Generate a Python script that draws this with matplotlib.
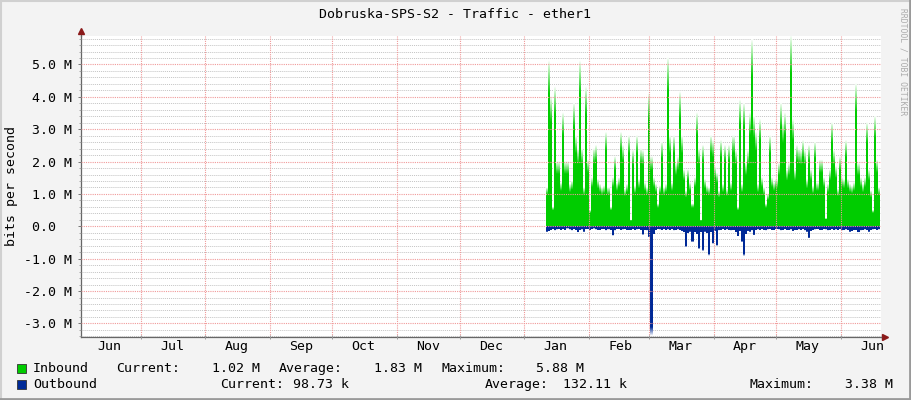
import numpy as np
import pandas as pd
import matplotlib
matplotlib.use("Agg")
import matplotlib.pyplot as plt
import matplotlib.dates as mdates
from matplotlib.colors import to_rgb
from matplotlib.lines import Line2D
from matplotlib.patches import Rectangle
from matplotlib.transforms import blended_transform_factory


title = "Dobruska-SPS-S2 - Traffic - ether1"

# Mbit/s, jeden vzorek zhruba na den
inbound = [
    1.20, 5.10, 4.00, 0.60, 4.30, 2.00, 2.00, 1.35, 3.50, 2.00, 2.00, 1.30, 1.40, 3.80,
    2.80, 2.40, 5.10, 2.40, 1.20, 4.30, 2.05, 0.50, 1.50, 2.40, 2.50, 1.45, 1.30, 1.20,
    1.25, 2.90, 1.20, 0.60, 1.50, 2.15, 1.35, 1.50, 2.90, 2.50, 1.15, 1.30, 2.80,
    0.20, 2.35, 1.25, 2.80, 1.45, 2.40, 2.35, 1.35, 1.20, 4.10, 2.15, 1.50, 1.30, 0.70,
    1.25, 2.60, 1.20, 1.30, 5.20, 2.80, 1.35, 2.80, 1.95, 2.15, 4.15, 2.80, 1.75, 1.10,
    1.75, 1.35, 0.70, 1.50, 3.50, 2.40, 0.20, 2.50, 1.45, 1.25, 1.20, 2.80,
    2.65, 1.85, 1.65, 1.10, 2.65, 1.30, 2.50, 1.15, 2.50, 1.35, 2.80, 2.35, 0.60, 3.90,
    1.30, 3.80, 1.95, 2.35, 3.50, 5.76, 3.40, 2.90, 1.30, 3.30, 1.50, 1.20, 0.70, 1.00,
    2.80, 1.50, 1.35, 1.45, 1.95, 3.80, 3.20, 3.50, 1.75, 1.95, 5.88, 3.30, 1.75,
    2.50, 2.40, 2.35, 2.65, 2.35, 1.45, 2.50, 1.75, 1.25, 2.60, 1.35, 2.05, 2.05, 1.50,
    0.25, 1.30, 1.75, 3.20, 2.35, 1.85, 1.15, 2.15, 1.50, 1.45, 2.65, 1.45, 1.30, 1.25,
    1.35, 4.40, 1.95, 1.50, 1.30, 1.50, 3.20, 1.75, 1.10, 0.50, 3.40, 2.05, 1.20,
]
outbound = [
    -0.18, -0.16, -0.12, -0.10, -0.14, -0.11, -0.09, -0.13, -0.10, -0.12, -0.08, -0.11,
    -0.14, -0.10, -0.12, -0.20, -0.13, -0.11, -0.18, -0.10, -0.09, -0.12, -0.10, -0.08,
    -0.11, -0.13, -0.12, -0.09, -0.10, -0.14, -0.11, -0.12, -0.30, -0.14, -0.10, -0.09,
    -0.12, -0.11, -0.10, -0.13, -0.12,
    -0.12, -0.10, -0.13, -0.11, -0.10, -0.12, -0.27, -0.12, -0.14, -0.35, -3.38, -0.25,
    -0.12, -0.10, -0.11, -0.12, -0.10, -0.13, -0.11, -0.12, -0.10, -0.14, -0.12, -0.11,
    -0.13, -0.15, -0.20, -0.66, -0.22, -0.18, -0.50, -0.20, -0.25, -0.72, -0.20, -0.78,
    -0.18, -0.22, -0.92, -0.20,
    -0.55, -0.15, -0.62, -0.14, -0.12, -0.10, -0.13, -0.11, -0.12, -0.14, -0.12, -0.20,
    -0.32, -0.15, -0.50, -0.93, -0.25, -0.15, -0.18, -0.14, -0.28, -0.13, -0.11, -0.12,
    -0.10, -0.13, -0.14, -0.11, -0.10, -0.12, -0.13, -0.10, -0.11, -0.14, -0.12, -0.10,
    -0.13, -0.12, -0.11, -0.15, -0.12,
    -0.12, -0.11, -0.13, -0.10, -0.14, -0.18, -0.38, -0.15, -0.12, -0.11, -0.10, -0.13,
    -0.12, -0.10, -0.11, -0.14, -0.12, -0.10, -0.13, -0.11, -0.12, -0.10, -0.14, -0.12,
    -0.11, -0.13, -0.18, -0.16, -0.13, -0.12, -0.20, -0.14, -0.12, -0.11, -0.13, -0.18,
    -0.12, -0.11, -0.10, -0.12, -0.11,
]
data_start = "2024-01-12"
data_end = "2024-06-19"
x_start = "2023-06-02 10:00"
x_end = "2024-06-20 03:00"

y_ticks = [-3, -2, -1, 0, 1, 2, 3, 4, 5]
y_labels = ["-3.0 M", "-2.0 M", "-1.0 M", " 0.0", " 1.0 M", " 2.0 M", " 3.0 M", " 4.0 M", " 5.0 M"]
month_names = ["Jun", "Jul", "Aug", "Sep", "Oct", "Nov", "Dec",
               "Jan", "Feb", "Mar", "Apr", "May", "Jun"]

in_name, out_name = "Inbound", "Outbound"
in_stats = ["1.02 M", "1.83 M", "5.88 M"]
out_stats = ["98.73 k", "132.11 k", "3.38 M"]

green = "#00CC00"
blue = "#002A97"
mono = "DejaVu Sans Mono"
W, H = 911, 400

##############################################################################

def column_image(vals, color, top, fade, n_rows=900):
    # sloupec je plny, jen spicka vybledne do bila (nepruhledne RGB)
    v = np.asarray(vals, dtype=float)
    yy = (np.arange(n_rows) + 0.5) / n_rows * top
    a = np.clip((v[None, :] - yy[:, None]) / (fade * v[None, :]), 0, 1)
    inside = (np.abs(yy)[:, None] <= np.abs(v)[None, :]).astype(float)
    rgb = np.array(to_rgb(color))
    img = np.ones((n_rows, len(v), 4))
    img[..., :3] = 1 - a[..., None] * (1 - rgb)
    img[..., 3] = inside
    return img


fig = plt.figure(figsize=(W / 100, H / 100), dpi=100, facecolor="#F3F3F3")
ax = fig.add_axes([81 / W, 1 - 337 / H, 800 / W, 301 / H])
ax.set_facecolor("white")

ylo, yhi = -3.42, 5.88
dates = pd.date_range(data_start, data_end, periods=len(inbound))
xn = mdates.date2num(dates)
step = xn[1] - xn[0]
x0, x1 = xn[0] - step / 2, xn[-1] + step / 2

ax.imshow(column_image(inbound, green, yhi, 0.2), extent=(x0, x1, 0, yhi),
          origin="lower", aspect="auto", interpolation="nearest", zorder=1)
ax.imshow(column_image(outbound, blue, ylo, 0.08), extent=(x0, x1, 0, ylo),
          origin="lower", aspect="auto", interpolation="nearest", zorder=1)

ax.set_xlim(mdates.date2num(pd.Timestamp(x_start)), mdates.date2num(pd.Timestamp(x_end)))
ax.set_ylim(ylo, yhi)

# drobna mrizka pod daty, cervena nad nimi
for yv in np.arange(-34, 59, 2) / 10:
    if abs(yv - round(yv)) > 1e-6:
        ax.axhline(yv, color="#C4C4C4", linestyle=(0, (1, 1)), linewidth=0.7, zorder=0.5)

month_starts = pd.date_range("2023-07-01", "2024-06-01", freq="MS")
ax.set_xticks(mdates.date2num(month_starts))
ax.set_xticklabels([])
ax.set_yticks(y_ticks)
ax.set_yticks(np.arange(-34, 59, 2) / 10, minor=True)
ax.set_yticklabels(y_labels, family=mono, fontsize=9.5)
for lbl in ax.get_yticklabels():
    lbl.set_horizontalalignment("left")

ax.set_axisbelow(False)
ax.grid(which="major", axis="both", color="#F09A9A", linestyle=(0, (1, 1)), linewidth=0.8)

ax.tick_params(axis="y", which="major", direction="out", length=2.5, width=0.7,
               color="#777777", pad=38.5)
ax.tick_params(axis="y", which="minor", direction="out", length=1.5, width=0.6, color="#999999")
ax.tick_params(axis="x", which="major", direction="inout", length=3, width=0.7, color="#999999")

for s in ["top", "right"]:
    ax.spines[s].set_visible(False)
for s in ["left", "bottom"]:
    ax.spines[s].set_color("#666666")
    ax.spines[s].set_linewidth(0.9)

# sipky na koncich os
ax.plot([0, 0], [1, 1.012], transform=ax.transAxes, color="#666666", lw=0.9, clip_on=False)
ax.plot([1, 1.004], [0, 0], transform=ax.transAxes, color="#666666", lw=0.9, clip_on=False)
ax.plot([0], [1.017], marker="^", markersize=4.5, color="#8B1A1A",
        transform=ax.transAxes, clip_on=False)
ax.plot([1.005], [0], marker=">", markersize=4.5, color="#8B1A1A",
        transform=ax.transAxes, clip_on=False)

trans = blended_transform_factory(ax.transData, ax.transAxes)
label_dates = pd.date_range("2023-06-01", periods=len(month_names), freq="MS") + pd.Timedelta(days=15)
for d, name in zip(mdates.date2num(label_dates), month_names):
    ax.text(d, -13 / 301, name, transform=trans, ha="center", va="baseline",
            family=mono, fontsize=9.5, clip_on=False)

fig.text(455 / W, 1 - 18 / H, title, ha="center", va="baseline", family=mono, fontsize=9.5)
fig.text(12 / W, 1 - 186 / H, "bits per second", rotation=90, ha="center", va="center",
         family=mono, fontsize=9.5)
fig.text(903 / W, 1 - 62 / H, "RRDTOOL / TOBI OETIKER", rotation=270, ha="center",
         va="center", family=mono, fontsize=5.8, color="#ABABAB")

# legenda
rows = [
    (368, green, in_name, in_stats, [116, 279, 441], [260, 422, 584]),
    (384, blue, out_name, out_stats, [220, 485, 750], [349, 627, 893]),
]
for y, col, name, stats, lx, rx in rows:
    base = 1 - (y + 4) / H
    fig.add_artist(Rectangle((17 / W, 1 - (y + 4.5) / H), 9 / W, 9 / H, transform=fig.transFigure,
                             facecolor=col, edgecolor="#333333", linewidth=0.6))
    fig.text(33 / W, base, name, ha="left", va="baseline", family=mono, fontsize=9.5)
    for word, xl, val, xr in zip(["Current:", "Average:", "Maximum:"], lx, stats, rx):
        fig.text(xl / W, base, word, ha="left", va="baseline", family=mono, fontsize=9.5)
        fig.text(xr / W, base, val, ha="right", va="baseline", family=mono, fontsize=9.5)

# ramecek obrazku
fig.add_artist(Line2D([0, 1], [1 - 1 / H, 1 - 1 / H], transform=fig.transFigure, color="#D0D0D0", lw=1.5))
fig.add_artist(Line2D([1 / W, 1 / W], [0, 1], transform=fig.transFigure, color="#D0D0D0", lw=1.5))
fig.add_artist(Line2D([0, 1], [1.5 / H, 1.5 / H], transform=fig.transFigure, color="#9A9A9A", lw=2))
fig.add_artist(Line2D([1 - 1.5 / W, 1 - 1.5 / W], [0, 1], transform=fig.transFigure, color="#9A9A9A", lw=2))

fig.savefig("out.png", dpi=100, facecolor=fig.get_facecolor())
